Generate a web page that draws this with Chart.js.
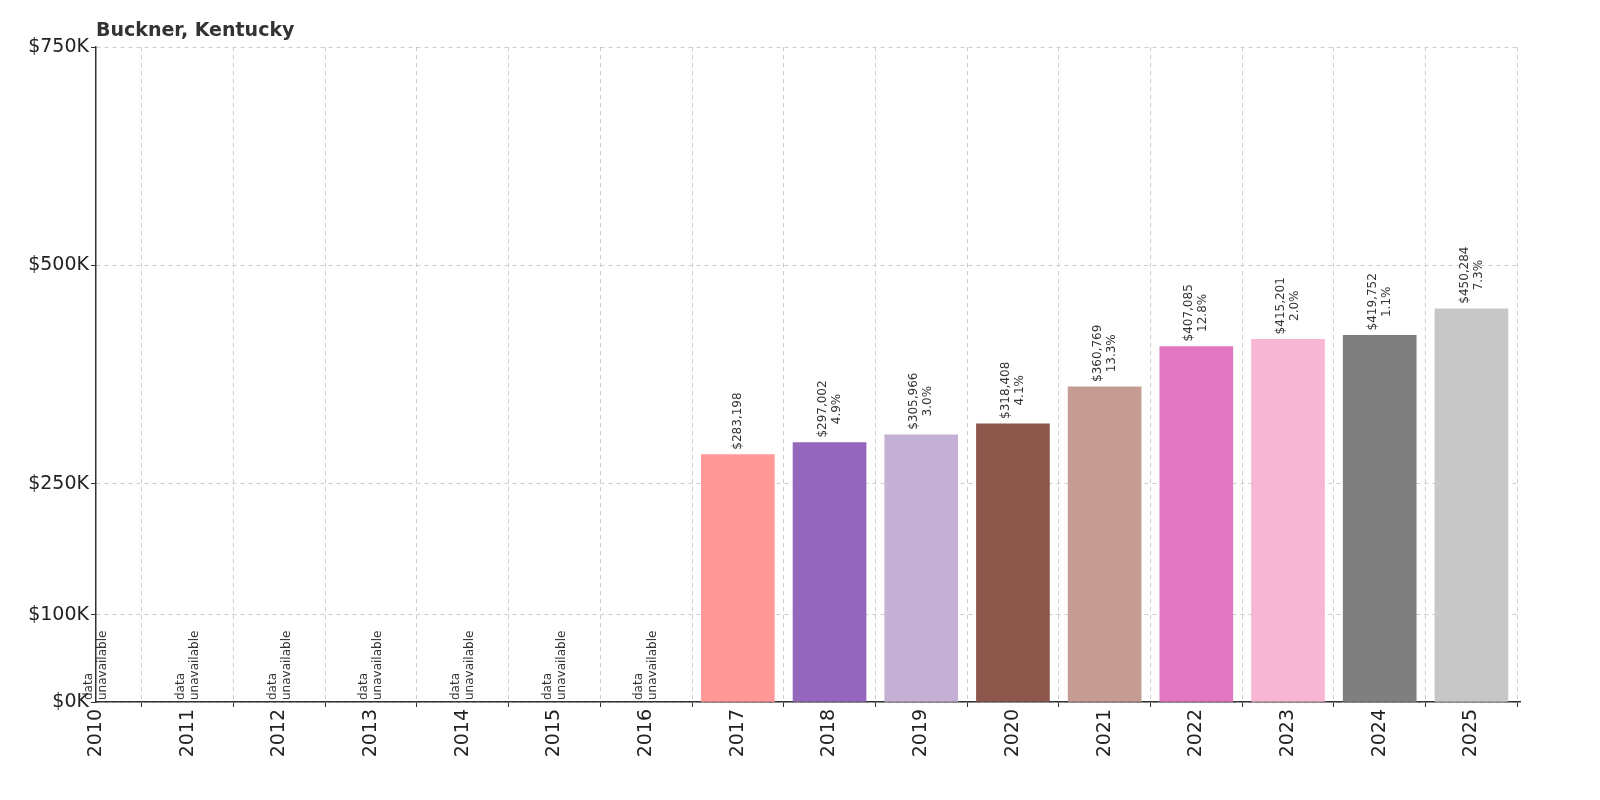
<!DOCTYPE html><html><head><meta charset="utf-8">
<script src="https://cdn.jsdelivr.net/npm/chart.js@4/dist/chart.umd.min.js"></script>
<style>html,body{margin:0;padding:0;overflow:hidden;background:#fff}canvas{display:block}</style></head><body>
<canvas id="c" width="1600" height="800" style="width:1600px;height:800px"></canvas>
<script>
const years=[2010,2011,2012,2013,2014,2015,2016,2017,2018,2019,2020,2021,2022,2023,2024,2025];
const values=[null,null,null,null,null,null,null,283198,297002,305966,318408,360769,407085,415201,419752,450284];
const changes=[null,null,null,null,null,null,null,null,"4.9%","3.0%","4.1%","13.3%","12.8%","2.0%","1.1%","7.3%"];
const colors=["#ff9896","#ff9896","#ff9896","#ff9896","#ff9896","#ff9896","#ff9896","#ff9896","#9467bd","#c5b0d5","#8c564b","#c49c94","#e377c2","#f7b6d2","#7f7f7f","#c7c7c7"];
const yTicks=[0,100000,250000,500000,750000];
const yTickLabels=["$0K","$100K","$250K","$500K","$750K"];
const title="Buckner, Kentucky";
const F="'DejaVu Sans', sans-serif";
const labels={id:'lbl',afterDatasetsDraw(ch){
  const c=ch.ctx,x=ch.scales.x,y=ch.scales.y;
  c.save();c.fillStyle='#333';c.font='bold 19px '+F;c.textBaseline='alphabetic';c.textAlign='left';
  c.fillText(title,96,36);
  c.font='12px '+F;c.fillStyle='#333';
  years.forEach((yr,i)=>{
    const px=x.getPixelForValue(yr);
    c.save();
    if(values[i]==null){
      c.translate(px,y.getPixelForValue(0)-2);c.rotate(-Math.PI/2);c.textAlign='left';c.textBaseline='middle';
      c.fillText('data',0,-7);c.fillText('unavailable',0,7);
    }else{
      c.translate(px,y.getPixelForValue(values[i])-5);c.rotate(-Math.PI/2);c.textAlign='left';c.textBaseline='middle';
      const v='$'+values[i].toLocaleString('en-US');
      if(changes[i]){c.fillText(v,0,-7);c.textAlign='center';const w=c.measureText(v).width;c.fillText(changes[i],w/2,7);}
      else c.fillText(v,0,0);
    }
    c.restore();
  });
  c.restore();
}};
new Chart(document.getElementById('c'),{type:'bar',
 data:{datasets:[{data:years.map((yr,i)=>({x:yr,y:values[i]})),backgroundColor:colors,barThickness:73}]},
 options:{responsive:false,animation:false,devicePixelRatio:1,
  layout:{padding:{top:47,right:80,left:0,bottom:0}},
  plugins:{legend:{display:false},tooltip:{enabled:false}},
  scales:{
   x:{type:'linear',min:2010,max:2025.53,offset:false,
      afterBuildTicks(s){s.ticks=years.map(v=>({value:v}));},
      afterFit(s){s.height=98;},
      grid:{color:'#ccc',tickLength:5,tickColor:'#333'},
      border:{display:true,color:'#333',dash:[4,4],width:1.5},
      ticks:{maxRotation:90,minRotation:90,padding:2,font:{size:19,family:F},color:'#222',callback:v=>String(v)}},
   y:{min:0,max:750000,
      afterBuildTicks(s){s.ticks=yTicks.map(v=>({value:v}));},
      afterFit(s){s.width=96;},
      grid:{color:'#ccc',tickLength:5,tickColor:'#333'},
      border:{display:true,color:'#333',dash:[4,4],width:1.5},
      ticks:{padding:2,font:{size:19,family:F},color:'#222',callback:v=>yTickLabels[yTicks.indexOf(v)]}}
  }},plugins:[labels]});
</script></body></html>
